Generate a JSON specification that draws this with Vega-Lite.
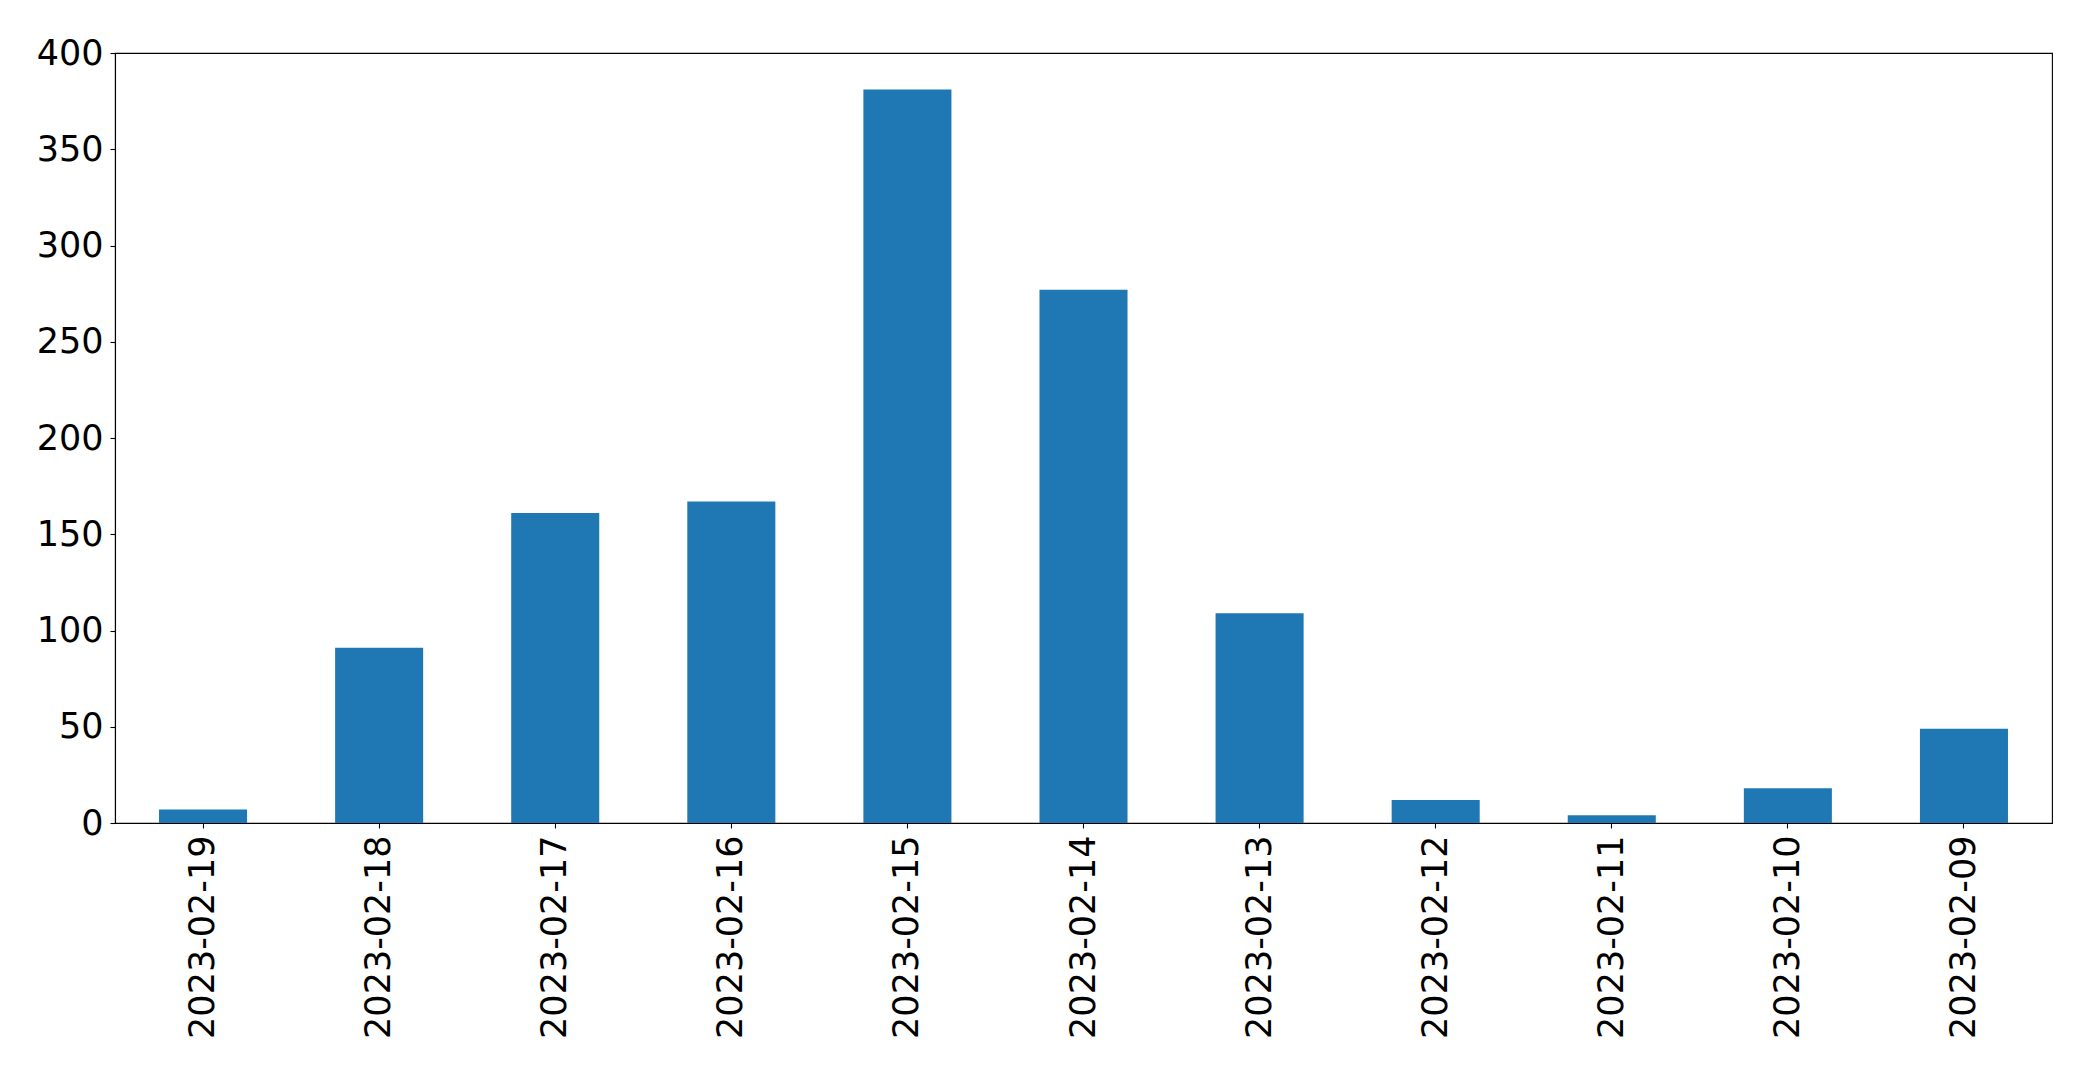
{
  "$schema": "https://vega.github.io/schema/vega-lite/v6.json",
  "width": 1937,
  "height": 770,
  "autosize": {"type": "none"},
  "padding": {"left": 115, "top": 53, "right": 41, "bottom": 252},
  "background": "white",
  "config": {
    "view": {"stroke": "black", "strokeWidth": 1.1},
    "font": "DejaVu Sans"
  },
  "data": {
    "values": [
      {"date": "2023-02-19", "count": 7},
      {"date": "2023-02-18", "count": 91},
      {"date": "2023-02-17", "count": 161},
      {"date": "2023-02-16", "count": 167},
      {"date": "2023-02-15", "count": 381},
      {"date": "2023-02-14", "count": 277},
      {"date": "2023-02-13", "count": 109},
      {"date": "2023-02-12", "count": 12},
      {"date": "2023-02-11", "count": 4},
      {"date": "2023-02-10", "count": 18},
      {"date": "2023-02-09", "count": 49}
    ]
  },
  "mark": {"type": "bar", "color": "#1f77b4"},
  "encoding": {
    "x": {
      "field": "date",
      "type": "nominal",
      "sort": null,
      "scale": {"paddingInner": 0.5, "paddingOuter": 0.25},
      "axis": {
        "title": null,
        "labelAngle": -90,
        "labelLimit": 0,
        "labelFont": "DejaVu Sans",
        "labelFontSize": 35,
        "labelColor": "black",
        "labelPadding": 7,
        "tickColor": "black",
        "tickSize": 5,
        "tickWidth": 1.1,
        "domainColor": "black",
        "domainWidth": 1.1,
        "grid": false
      }
    },
    "y": {
      "field": "count",
      "type": "quantitative",
      "scale": {"domain": [0, 400], "nice": false},
      "axis": {
        "title": null,
        "values": [0, 50, 100, 150, 200, 250, 300, 350, 400],
        "labelFont": "DejaVu Sans",
        "labelFontSize": 35,
        "labelColor": "black",
        "labelPadding": 7,
        "tickColor": "black",
        "tickSize": 5,
        "tickWidth": 1.1,
        "domainColor": "black",
        "domainWidth": 1.1,
        "grid": false
      }
    }
  }
}
